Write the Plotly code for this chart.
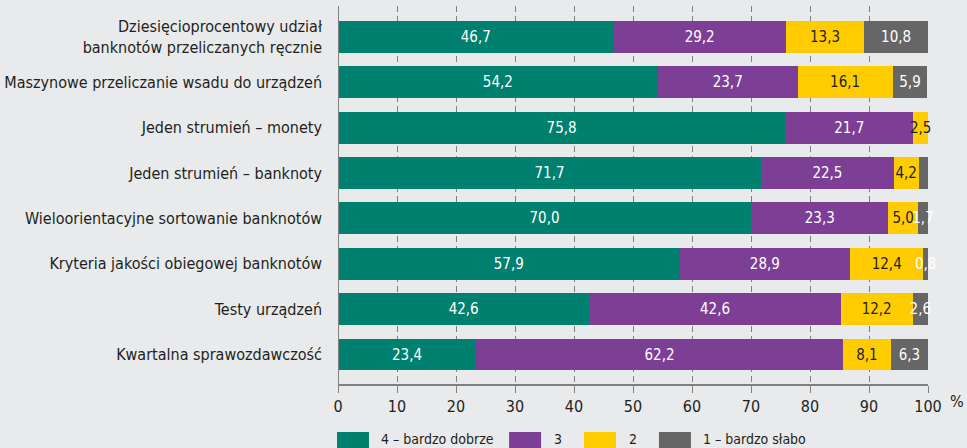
import plotly.graph_objects as go

categories = [
    "Dziesięcioprocentowy udział<br>banknotów przeliczanych ręcznie",
    "Maszynowe przeliczanie wsadu do urządzeń",
    "Jeden strumień – monety",
    "Jeden strumień – banknoty",
    "Wieloorientacyjne sortowanie banknotów",
    "Kryteria jakości obiegowej banknotów",
    "Testy urządzeń",
    "Kwartalna sprawozdawczość",
]
series_names = ["4 – bardzo dobrze", "3", "2", "1 – bardzo słabo"]
v4 = [46.7, 54.2, 75.8, 71.7, 70.0, 57.9, 42.6, 23.4]
v3 = [29.2, 23.7, 21.7, 22.5, 23.3, 28.9, 42.6, 62.2]
v2 = [13.3, 16.1, 2.5, 4.2, 5.0, 12.4, 12.2, 8.1]
v1 = [10.8, 5.9, 0.0, 1.7, 1.7, 0.8, 2.6, 6.3]
x_ticks = [0, 10, 20, 30, 40, 50, 60, 70, 80, 90, 100]

colors = ["#00806F", "#7D3F96", "#FFCC00", "#666666"]
text_colors = ["#FFFFFF", "#FFFFFF", "#231F20", "#FFFFFF"]
FONT = "DejaVu Sans Condensed, Liberation Sans Narrow, sans-serif"

def fmt(v):
    return "" if v == 0 else f"{v:.1f}".replace(".", ",")

fig = go.Figure()
for name, vals, col, tcol in zip(series_names, [v4, v3, v2, v1], colors, text_colors):
    fig.add_trace(go.Bar(
        y=categories, x=vals, name=name, orientation="h",
        marker=dict(color=col, line=dict(width=0)),
        text=[fmt(v) for v in vals], textposition="inside", textangle=0,
        insidetextanchor="middle", constraintext="none",
        textfont=dict(family=FONT, size=15, color=tcol),
        showlegend=False, cliponaxis=False,
    ))

# legend drawn manually with wide swatches
leg_x = [-0.0017, 0.290, 0.417, 0.544]
for i, (name, col) in enumerate(zip(series_names, colors)):
    x0 = leg_x[i]
    fig.add_shape(type="rect", xref="paper", yref="paper",
                  x0=x0, x1=x0 + 0.0542, y0=-0.175, y1=-0.127,
                  fillcolor=col, line=dict(width=0), layer="above")
    fig.add_annotation(xref="paper", yref="paper", x=x0 + 0.072, y=-0.1455,
                       text=name, showarrow=False, xanchor="left", yanchor="middle",
                       font=dict(family=FONT, size=14, color="#231F20"))

fig.add_annotation(xref="paper", yref="paper", x=1.049, y=-0.0476, text="%",
                   showarrow=False, xanchor="center", yanchor="middle",
                   font=dict(family=FONT, size=16, color="#231F20"))

fig.update_layout(
    barmode="stack", bargap=0.30,
    width=967, height=448,
    margin=dict(l=338, r=39, t=6, b=64),
    paper_bgcolor="#E9EAEC", plot_bgcolor="#E9EAEC",
    font=dict(family=FONT, size=16, color="#231F20"),
)
fig.update_xaxes(
    range=[0, 100], tickvals=x_ticks, ticktext=[str(t) for t in x_ticks],
    automargin=False,
    showgrid=True, gridcolor="#808080", gridwidth=1, griddash="6px,4px",
    zeroline=False, showline=True, linecolor="#808080", linewidth=1.5,
    ticks="outside", ticklen=7, tickcolor="#808080", tickwidth=1,
    tickfont=dict(family=FONT, size=16, color="#231F20"),
)
fig.update_yaxes(
    range=[7.65, -0.68], showgrid=False, zeroline=False, automargin=False,
    showline=False, ticks="", ticklabelstandoff=15,
    tickfont=dict(family=FONT, size=16, color="#231F20"),
)
fig.add_shape(type="line", xref="x", yref="paper", x0=0, x1=0, y0=0, y1=1,
              line=dict(color="#808080", width=2), layer="above")

fig.write_html("out.html",
               config={"displayModeBar": False},
               post_script="document.body.style.margin='0';document.body.style.background='#E9EAEC';")
